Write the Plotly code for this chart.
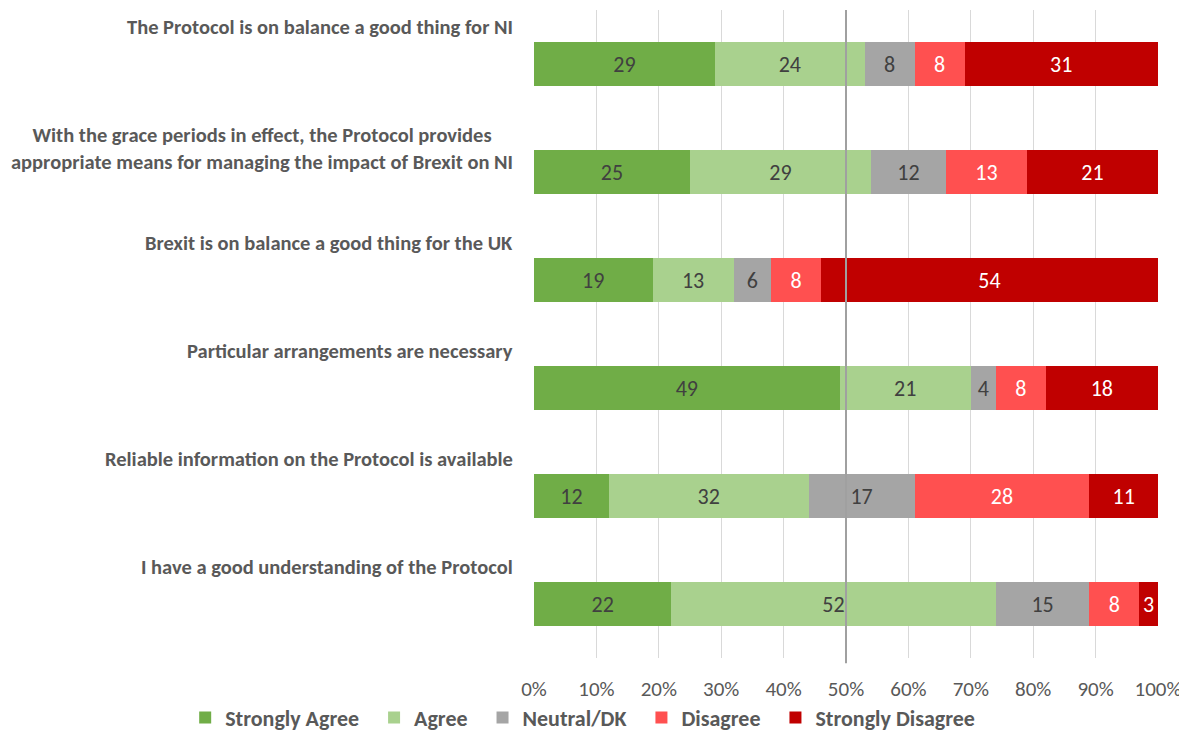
import plotly.graph_objects as go

categories = [
    "The Protocol is on balance a good thing for NI",
    "With the grace periods in effect, the Protocol provides<br>appropriate means for managing the impact of Brexit on NI",
    "Brexit is on balance a good thing for the UK",
    "Particular arrangements are necessary",
    "Reliable information on the Protocol is available",
    "I have a good understanding of the Protocol",
]
series_names = ["Strongly Agree", "Agree", "Neutral/DK", "Disagree", "Strongly Disagree"]
strongly_agree = [29, 25, 19, 49, 12, 22]
agree = [24, 29, 13, 21, 32, 52]
neutral = [8, 12, 6, 4, 17, 15]
disagree = [8, 13, 8, 8, 28, 8]
strongly_disagree = [31, 21, 54, 18, 11, 3]
tick_values = [0, 10, 20, 30, 40, 50, 60, 70, 80, 90, 100]
tick_labels = [f"{v}%" for v in tick_values]

colors = ["#70AD47", "#A9D18E", "#A5A5A5", "#FF5050", "#C00000"]
text_colors = ["#404040", "#404040", "#404040", "#FFFFFF", "#FFFFFF"]
FONT = "Carlito, 'Liberation Sans Narrow', 'Open Sans', sans-serif"

ypos = list(range(len(categories)))
fig = go.Figure()
for name, vals, c, tc in zip(series_names,
                             [strongly_agree, agree, neutral, disagree, strongly_disagree],
                             colors, text_colors):
    fig.add_trace(go.Bar(
        y=ypos, x=vals, name=f"<b>{name}</b>&nbsp;&nbsp;", orientation="h",
        marker=dict(color=c, line=dict(width=0)),
        text=[str(v) for v in vals], textposition="inside",
        insidetextanchor="middle", textangle=0,
        textfont=dict(color=tc, size=22, family=FONT),
        width=0.4,
    ))

for i, cat in enumerate(categories):
    fig.add_annotation(
        x=-0.03, xref="paper", xanchor="right",
        y=i - 0.5 + 0.02, yref="y", yanchor="top",
        text=f"<b>{cat}</b>", showarrow=False, align="center",
        font=dict(size=20.5, color="#595959", family=FONT),
    )

fig.add_shape(type="line", x0=50, x1=50, xref="x", y0=-0.008, y1=1.0, yref="paper",
              line=dict(color="#A0A0A0", width=2))

fig.update_layout(
    barmode="stack",
    width=1187, height=733,
    margin=dict(l=526, r=37, t=2, b=81),
    plot_bgcolor="white", paper_bgcolor="white",
    uniformtext=dict(minsize=8, mode="show"),
    xaxis=dict(range=[0, 100], tickvals=tick_values, ticktext=tick_labels,
               showgrid=True, gridcolor="#D9D9D9", gridwidth=1, zeroline=False,
               tickfont=dict(size=21, color="#595959", family=FONT),
               ticklabelstandoff=16, fixedrange=True),
    yaxis=dict(range=[5.5, -0.5], showticklabels=False, showgrid=False, zeroline=False,
               fixedrange=True),
    legend=dict(orientation="h", x=-0.559, xanchor="left", y=-0.092, yanchor="middle",
                font=dict(size=22, color="#595959", family=FONT), traceorder="normal",
                itemwidth=30, bgcolor="rgba(0,0,0,0)"),
    showlegend=True,
    font=dict(family=FONT),
)

fig.write_html("out.html")
